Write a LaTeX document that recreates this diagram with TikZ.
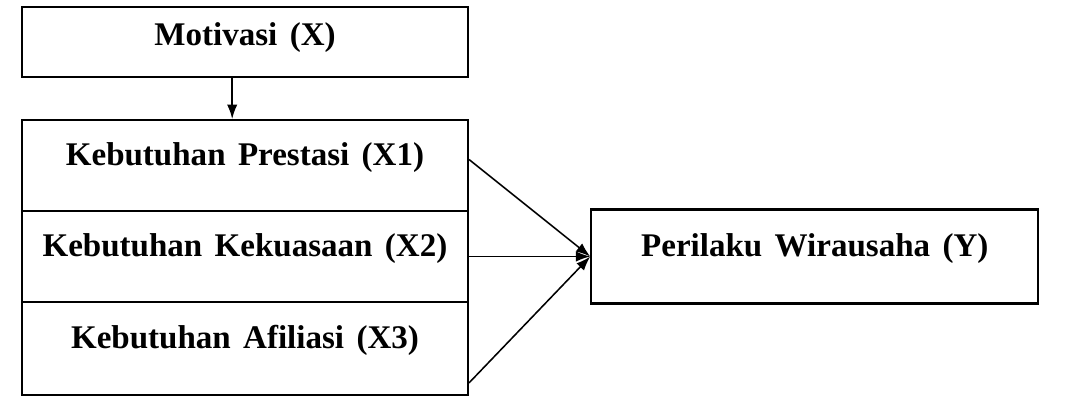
\documentclass[tikz,border=0pt]{standalone}
\usepackage{fontspec}
\setmainfont[WordSpace=1.5]{Liberation Serif}
\usepackage{tikz}
\usetikzlibrary{positioning,arrows.meta}

\begin{document}
\begin{tikzpicture}[>={Latex[length=3.6mm,width=2.6mm]},
  varbox/.style={draw,line width=1.5pt,minimum width=11.15cm,inner sep=0pt,
    text height=0.6cm,text depth=0.6cm,font=\fontsize{23.5}{28}\selectfont\bfseries},
  link/.style={->,line width=1.1pt}]
\useasboundingbox (0,0) rectangle (26.725,-10.175);
\node[varbox,minimum height=1.75cm,text height=0.45cm,text depth=0.3cm] (mot) at (6.125,-1.05) {Motivasi (X)};
% the three indicators, stacked
\node[varbox,minimum height=2.275cm] (x1) at (6.125,-4.1375) {Kebutuhan Prestasi (X1)};
\node[varbox,minimum height=2.275cm,below=-1.5pt of x1] (x2) {Kebutuhan Kekuasaan (X2)};
\node[varbox,minimum height=2.325cm,below=-1.5pt of x2] (x3) {Kebutuhan Afiliasi (X3)};
\node[varbox,minimum width=11.175cm,minimum height=2.35cm,right=3.03cm of x2] (y) {Perilaku Wirausaha (Y)};
\draw[link] ([xshift=-0.32cm]mot.south) -- ([xshift=-0.32cm]x1.north);
\draw[link] ([yshift=0.15cm]x1.east) -- (y.west);
\draw[link] (x2.east) -- (y.west);
\draw[link] ([yshift=0.33cm]x3.south east) -- (y.west);
\end{tikzpicture}
\end{document}
